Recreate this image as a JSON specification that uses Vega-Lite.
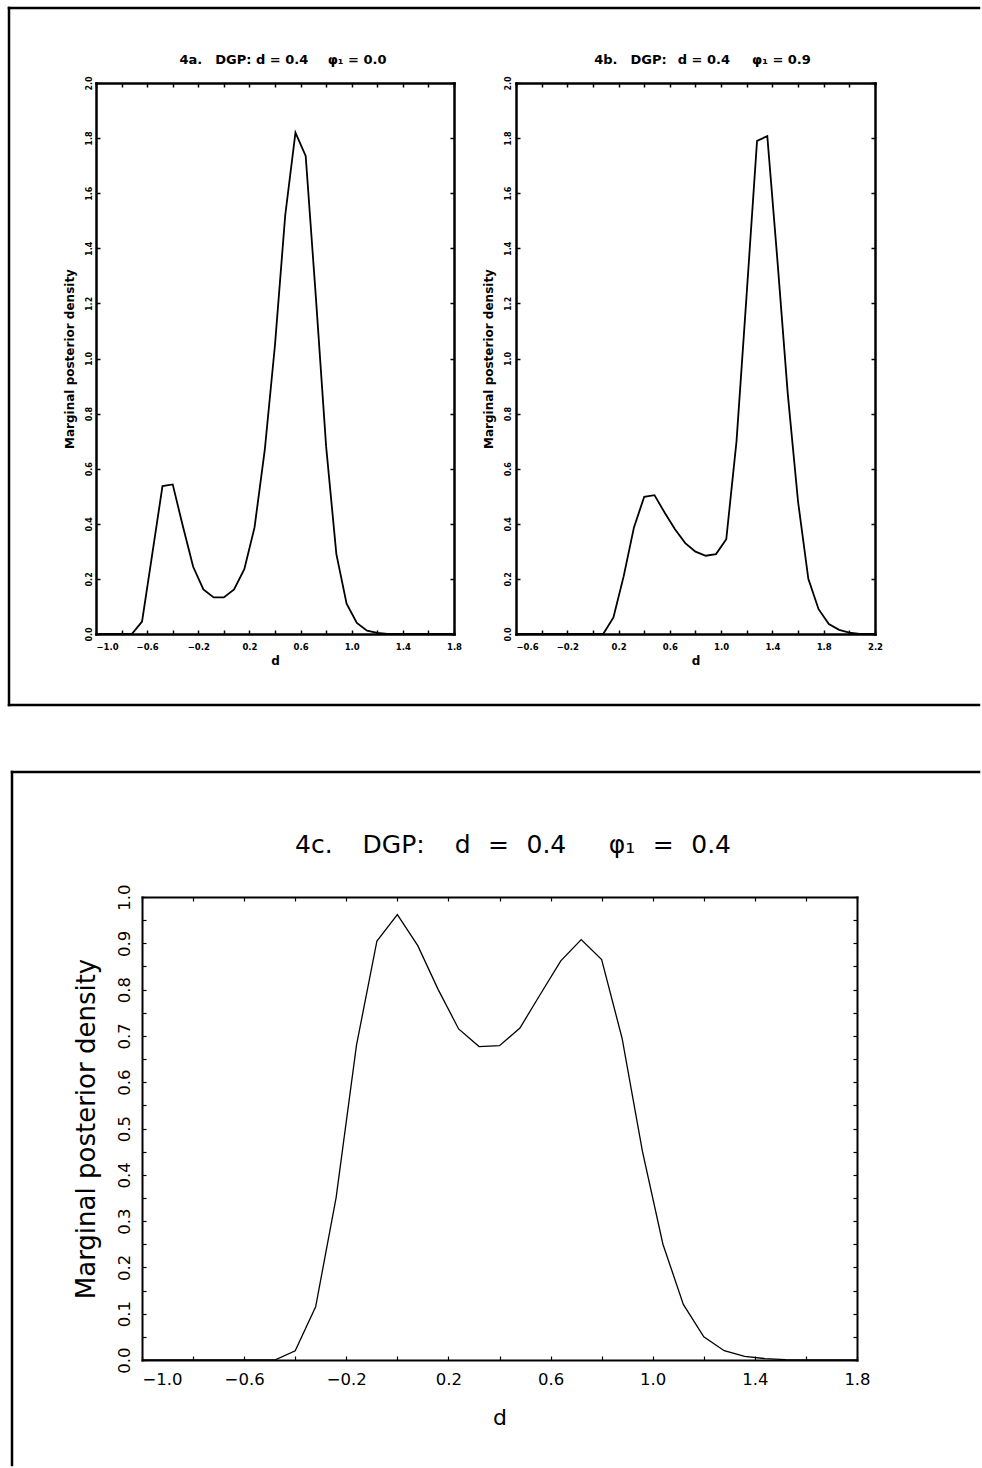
{
  "$schema": "https://vega.github.io/schema/vega-lite/v6.json",
  "background": "white",
  "padding": {"left": 7, "top": 6, "right": 0, "bottom": 0},
  "config": {
    "view": {"stroke": null},
    "axis": {"domainColor": "black", "tickColor": "black", "labelColor": "black", "titleColor": "black", "grid": false},
    "title": {"color": "black"}
  },
  "datasets": {
    "a": [
      {"d": -1.0, "density": 0}, {"d": -0.72, "density": 0}, {"d": -0.64, "density": 0.045}, {"d": -0.56, "density": 0.29},
      {"d": -0.48, "density": 0.537}, {"d": -0.40, "density": 0.543}, {"d": -0.32, "density": 0.39}, {"d": -0.24, "density": 0.244},
      {"d": -0.16, "density": 0.162}, {"d": -0.08, "density": 0.133}, {"d": 0.0, "density": 0.133}, {"d": 0.08, "density": 0.162},
      {"d": 0.16, "density": 0.235}, {"d": 0.24, "density": 0.387}, {"d": 0.32, "density": 0.668}, {"d": 0.40, "density": 1.05},
      {"d": 0.48, "density": 1.52}, {"d": 0.56, "density": 1.82}, {"d": 0.64, "density": 1.735}, {"d": 0.72, "density": 1.22},
      {"d": 0.80, "density": 0.68}, {"d": 0.88, "density": 0.29}, {"d": 0.96, "density": 0.11}, {"d": 1.04, "density": 0.04},
      {"d": 1.12, "density": 0.012}, {"d": 1.20, "density": 0.004}, {"d": 1.28, "density": 0}, {"d": 1.8, "density": 0}
    ],
    "b": [
      {"d": -0.6, "density": 0}, {"d": 0.08, "density": 0}, {"d": 0.16, "density": 0.06}, {"d": 0.24, "density": 0.21},
      {"d": 0.32, "density": 0.387}, {"d": 0.40, "density": 0.498}, {"d": 0.48, "density": 0.504}, {"d": 0.56, "density": 0.44},
      {"d": 0.64, "density": 0.38}, {"d": 0.72, "density": 0.33}, {"d": 0.80, "density": 0.299}, {"d": 0.88, "density": 0.284},
      {"d": 0.96, "density": 0.29}, {"d": 1.04, "density": 0.344}, {"d": 1.12, "density": 0.70}, {"d": 1.20, "density": 1.24},
      {"d": 1.28, "density": 1.79}, {"d": 1.36, "density": 1.807}, {"d": 1.44, "density": 1.35}, {"d": 1.52, "density": 0.87},
      {"d": 1.60, "density": 0.48}, {"d": 1.68, "density": 0.20}, {"d": 1.76, "density": 0.09}, {"d": 1.84, "density": 0.036},
      {"d": 1.92, "density": 0.015}, {"d": 2.00, "density": 0.005}, {"d": 2.08, "density": 0}, {"d": 2.2, "density": 0}
    ],
    "c": [
      {"d": -1.0, "density": 0}, {"d": -0.48, "density": 0}, {"d": -0.40, "density": 0.02}, {"d": -0.32, "density": 0.115},
      {"d": -0.24, "density": 0.35}, {"d": -0.16, "density": 0.68}, {"d": -0.08, "density": 0.905}, {"d": 0.0, "density": 0.962},
      {"d": 0.08, "density": 0.895}, {"d": 0.16, "density": 0.80}, {"d": 0.24, "density": 0.715}, {"d": 0.32, "density": 0.677},
      {"d": 0.40, "density": 0.679}, {"d": 0.48, "density": 0.717}, {"d": 0.56, "density": 0.79}, {"d": 0.64, "density": 0.862},
      {"d": 0.72, "density": 0.908}, {"d": 0.80, "density": 0.865}, {"d": 0.88, "density": 0.695}, {"d": 0.96, "density": 0.45},
      {"d": 1.04, "density": 0.25}, {"d": 1.12, "density": 0.12}, {"d": 1.20, "density": 0.05}, {"d": 1.28, "density": 0.02},
      {"d": 1.36, "density": 0.008}, {"d": 1.44, "density": 0.003}, {"d": 1.52, "density": 0.001}, {"d": 1.8, "density": 0}
    ]
  },
  "spacing": 63,
  "vconcat": [
    {
      "hconcat": [
        {
          "width": 358,
          "height": 551,
          "data": {"name": "a"},
          "title": {"text": "4a.\u2002\u2002DGP: d = 0.4\u2002\u2002\u2002φ₁ = 0.0", "font": "DejaVu Sans", "fontSize": 13, "fontWeight": "bold", "anchor": "middle", "frame": "group", "baseline": "alphabetic", "dx": 8, "offset": -71},
          "layer": [
            {
              "mark": {"type": "line", "color": "black", "strokeWidth": 1.8},
              "encoding": {
                "x": {"field": "d", "type": "quantitative", "scale": {"domain": [-1, 1.8], "nice": false, "zero": false},
                  "axis": {"orient": "bottom", "values": [-1, -0.8, -0.6, -0.4, -0.2, 0, 0.2, 0.4, 0.6, 0.8, 1, 1.2, 1.4, 1.6, 1.8],
                    "labelExpr": "abs(round(datum.value*5)) % 2 == 1 ? format(datum.value, '.1f') : ''",
                    "labelAlign": {"condition": {"test": "datum.value == -1", "value": "left"}, "value": "center"},
                    "tickSize": -4, "tickWidth": 1.5, "domainWidth": 2.5, "domainCap": "square",
                    "labelFont": "DejaVu Sans", "labelFontWeight": "bold", "labelFontSize": 8.5, "labelPadding": 12, "labelFlush": false, "labelOverlap": false, "labelBound": false,
                    "title": "d", "titleFont": "DejaVu Sans", "titleFontWeight": "bold", "titleFontSize": 12, "titlePadding": 5}},
                "y": {"field": "density", "type": "quantitative", "scale": {"domain": [0, 2], "nice": false},
                  "axis": {"orient": "left", "values": [0, 0.2, 0.4, 0.6, 0.8, 1, 1.2, 1.4, 1.6, 1.8, 2], "format": ".1f",
                    "tickSize": -4, "tickWidth": 1.5, "domainWidth": 2.5, "domainCap": "square",
                    "labelAngle": -90, "labelAlign": "center", "labelBaseline": "alphabetic",
                    "labelFont": "DejaVu Sans", "labelFontWeight": "bold", "labelFontSize": 8, "labelPadding": 9, "labelFlush": false, "labelOverlap": false,
                    "title": "Marginal posterior density", "titleFont": "DejaVu Sans", "titleFontWeight": "bold", "titleFontSize": 12, "titlePadding": 9}}
              }
            },
            {
              "mark": {"type": "line", "opacity": 0},
              "encoding": {
                "x": {"field": "d", "type": "quantitative", "axis": {"orient": "top", "values": [-1, -0.8, -0.6, -0.4, -0.2, 0, 0.2, 0.4, 0.6, 0.8, 1, 1.2, 1.4, 1.6, 1.8], "labels": false, "tickSize": -4, "tickWidth": 1.5, "domainWidth": 2.5, "domainCap": "square", "title": null}},
                "y": {"field": "density", "type": "quantitative", "axis": {"orient": "right", "values": [0, 0.2, 0.4, 0.6, 0.8, 1, 1.2, 1.4, 1.6, 1.8, 2], "labels": false, "tickSize": -4, "tickWidth": 1.5, "domainWidth": 2.5, "domainCap": "square", "title": null}}
              }
            },
            {
              "data": {"values": [{}]},
              "mark": {"type": "rule", "color": "black", "strokeWidth": 2.5, "strokeCap": "square"},
              "encoding": {"x": {"datum": -1.6804, "type": "quantitative", "axis": null}, "x2": {"datum": 5.906}, "y": {"datum": 2.2722, "type": "quantitative", "axis": null}}
            },
            {
              "data": {"values": [{}]},
              "mark": {"type": "rule", "color": "black", "strokeWidth": 2.5, "strokeCap": "square"},
              "encoding": {"x": {"datum": -1.6804, "type": "quantitative", "axis": null}, "x2": {"datum": 5.906}, "y": {"datum": -0.2577, "type": "quantitative", "axis": null}}
            },
            {
              "data": {"values": [{}]},
              "mark": {"type": "rule", "color": "black", "strokeWidth": 2.5, "strokeCap": "square"},
              "encoding": {"x": {"datum": -1.6804, "type": "quantitative", "axis": null}, "y": {"datum": 2.2722, "type": "quantitative", "axis": null}, "y2": {"datum": -0.2577}}
            }
          ],
          "resolve": {"axis": {"x": "independent", "y": "independent"}}
        },
        {
          "width": 359,
          "height": 551,
          "data": {"name": "b"},
          "title": {"text": "4b.\u2002\u2002DGP:\u2002 d = 0.4\u2002\u2002\u2002\u2009φ₁ = 0.9", "font": "DejaVu Sans", "fontSize": 13, "fontWeight": "bold", "anchor": "middle", "frame": "group", "baseline": "alphabetic", "dx": 7, "offset": -1},
          "layer": [
            {
              "mark": {"type": "line", "color": "black", "strokeWidth": 1.8},
              "encoding": {
                "x": {"field": "d", "type": "quantitative", "scale": {"domain": [-0.6, 2.2], "nice": false, "zero": false},
                  "axis": {"orient": "bottom", "values": [-0.6, -0.4, -0.2, 0, 0.2, 0.4, 0.6, 0.8, 1, 1.2, 1.4, 1.6, 1.8, 2, 2.2],
                    "labelExpr": "abs(round(datum.value*5)) % 2 == 1 ? format(datum.value, '.1f') : ''",
                    "labelAlign": {"condition": {"test": "datum.value == -0.6", "value": "left"}, "value": "center"},
                    "tickSize": -4, "tickWidth": 1.5, "domainWidth": 2.5, "domainCap": "square",
                    "labelFont": "DejaVu Sans", "labelFontWeight": "bold", "labelFontSize": 8.5, "labelPadding": 12, "labelFlush": false, "labelOverlap": false, "labelBound": false,
                    "title": "d", "titleFont": "DejaVu Sans", "titleFontWeight": "bold", "titleFontSize": 12, "titlePadding": 5}},
                "y": {"field": "density", "type": "quantitative", "scale": {"domain": [0, 2], "nice": false},
                  "axis": {"orient": "left", "values": [0, 0.2, 0.4, 0.6, 0.8, 1, 1.2, 1.4, 1.6, 1.8, 2], "format": ".1f",
                    "tickSize": -4, "tickWidth": 1.5, "domainWidth": 2.5, "domainCap": "square",
                    "labelAngle": -90, "labelAlign": "center", "labelBaseline": "alphabetic",
                    "labelFont": "DejaVu Sans", "labelFontWeight": "bold", "labelFontSize": 8, "labelPadding": 10, "labelFlush": false, "labelOverlap": false,
                    "title": "Marginal posterior density", "titleFont": "DejaVu Sans", "titleFontWeight": "bold", "titleFontSize": 12, "titlePadding": 9}}
              }
            },
            {
              "mark": {"type": "line", "opacity": 0},
              "encoding": {
                "x": {"field": "d", "type": "quantitative", "axis": {"orient": "top", "values": [-0.6, -0.4, -0.2, 0, 0.2, 0.4, 0.6, 0.8, 1, 1.2, 1.4, 1.6, 1.8, 2, 2.2], "labels": false, "tickSize": -4, "tickWidth": 1.5, "domainWidth": 2.5, "domainCap": "square", "title": null}},
                "y": {"field": "density", "type": "quantitative", "axis": {"orient": "right", "values": [0, 0.2, 0.4, 0.6, 0.8, 1, 1.2, 1.4, 1.6, 1.8, 2], "labels": false, "tickSize": -4, "tickWidth": 1.5, "domainWidth": 2.5, "domainCap": "square", "title": null}}
              }
            }
          ],
          "resolve": {"axis": {"x": "independent", "y": "independent"}}
        }
      ],
      "spacing": 62,
      "bounds": "flush"
    },
    {
      "width": 761,
      "height": 463,
      "data": {"name": "c"},
      "title": {"text": "4c.\u2002\u2002\u2009DGP:\u2002\u2002\u2009d\u2002\u2009=\u2002\u20090.4\u2002\u2002\u2002\u2009φ₁\u2002\u2009=\u2002\u20090.4", "font": "DejaVu Sans", "fontSize": 25, "fontWeight": "normal", "anchor": "middle", "frame": "group", "baseline": "alphabetic", "dx": 36.5, "offset": -108},
      "layer": [
        {
          "mark": {"type": "line", "color": "black", "strokeWidth": 1.3},
          "encoding": {
            "x": {"field": "d", "type": "quantitative", "scale": {"domain": [-1, 1.8], "range": [46, 761], "nice": false, "zero": false},
              "axis": {"orient": "bottom", "values": [-1, -0.8, -0.6, -0.4, -0.2, 0, 0.2, 0.4, 0.6, 0.8, 1, 1.2, 1.4, 1.6, 1.8],
                "labelExpr": "abs(round(datum.value*5)) % 2 == 1 ? format(datum.value, '.1f') : ''",
                "labelAlign": {"condition": {"test": "datum.value == -1", "value": "left"}, "value": "center"},
                "tickSize": -4, "tickWidth": 1.2, "domainWidth": 2, "domainCap": "square",
                "labelFont": "DejaVu Sans", "labelFontSize": 16.5, "labelPadding": 15, "labelFlush": false, "labelOverlap": false, "labelBound": false,
                "title": "d", "titleFont": "DejaVu Sans", "titleFontWeight": "normal", "titleFontSize": 22, "titlePadding": 20}},
            "y": {"field": "density", "type": "quantitative", "scale": {"domain": [0, 1], "nice": false},
              "axis": {"orient": "left", "offset": -46, "values": [0, 0.05, 0.1, 0.15, 0.2, 0.25, 0.3, 0.35, 0.4, 0.45, 0.5, 0.55, 0.6, 0.65, 0.7, 0.75, 0.8, 0.85, 0.9, 0.95, 1],
                "labelExpr": "round(datum.value*20) % 2 == 0 ? format(datum.value, '.1f') : ''",
                "tickSize": -4, "tickWidth": 1.2, "domainWidth": 2, "domainCap": "square",
                "labelAngle": -90, "labelAlign": "center", "labelBaseline": "alphabetic",
                "labelFont": "DejaVu Sans", "labelFontSize": 16.5, "labelPadding": 17, "labelFlush": false, "labelOverlap": false,
                "title": "Marginal posterior density", "titleFont": "DejaVu Sans", "titleFontWeight": "normal", "titleFontSize": 26, "titlePadding": 17}}
          }
        },
        {
          "mark": {"type": "line", "opacity": 0},
          "encoding": {
            "x": {"field": "d", "type": "quantitative", "axis": {"orient": "top", "values": [-1, -0.8, -0.6, -0.4, -0.2, 0, 0.2, 0.4, 0.6, 0.8, 1, 1.2, 1.4, 1.6, 1.8], "labels": false, "tickSize": -4, "tickWidth": 1.2, "domainWidth": 2, "domainCap": "square", "title": null}},
            "y": {"field": "density", "type": "quantitative", "axis": {"orient": "right", "values": [0, 0.05, 0.1, 0.15, 0.2, 0.25, 0.3, 0.35, 0.4, 0.45, 0.5, 0.55, 0.6, 0.65, 0.7, 0.75, 0.8, 0.85, 0.9, 0.95, 1], "labels": false, "tickSize": -4, "tickWidth": 1.2, "domainWidth": 2, "domainCap": "square", "title": null}}
          }
        },
        {
          "data": {"values": [{}]},
          "mark": {"type": "rule", "color": "black", "strokeWidth": 2.5, "strokeCap": "square"},
          "encoding": {"x": {"datum": -1.5091, "type": "quantitative", "axis": null}, "x2": {"datum": 2.2778}, "y": {"datum": 1.27, "type": "quantitative", "axis": null}}
        },
        {
          "data": {"values": [{}]},
          "mark": {"type": "rule", "color": "black", "strokeWidth": 2.5, "strokeCap": "square"},
          "encoding": {"x": {"datum": -1.5091, "type": "quantitative", "axis": null}, "y": {"datum": 1.27, "type": "quantitative", "axis": null}, "y2": {"datum": -0.2268}}
        }
      ],
      "resolve": {"axis": {"x": "independent", "y": "independent"}}
    }
  ]
}
